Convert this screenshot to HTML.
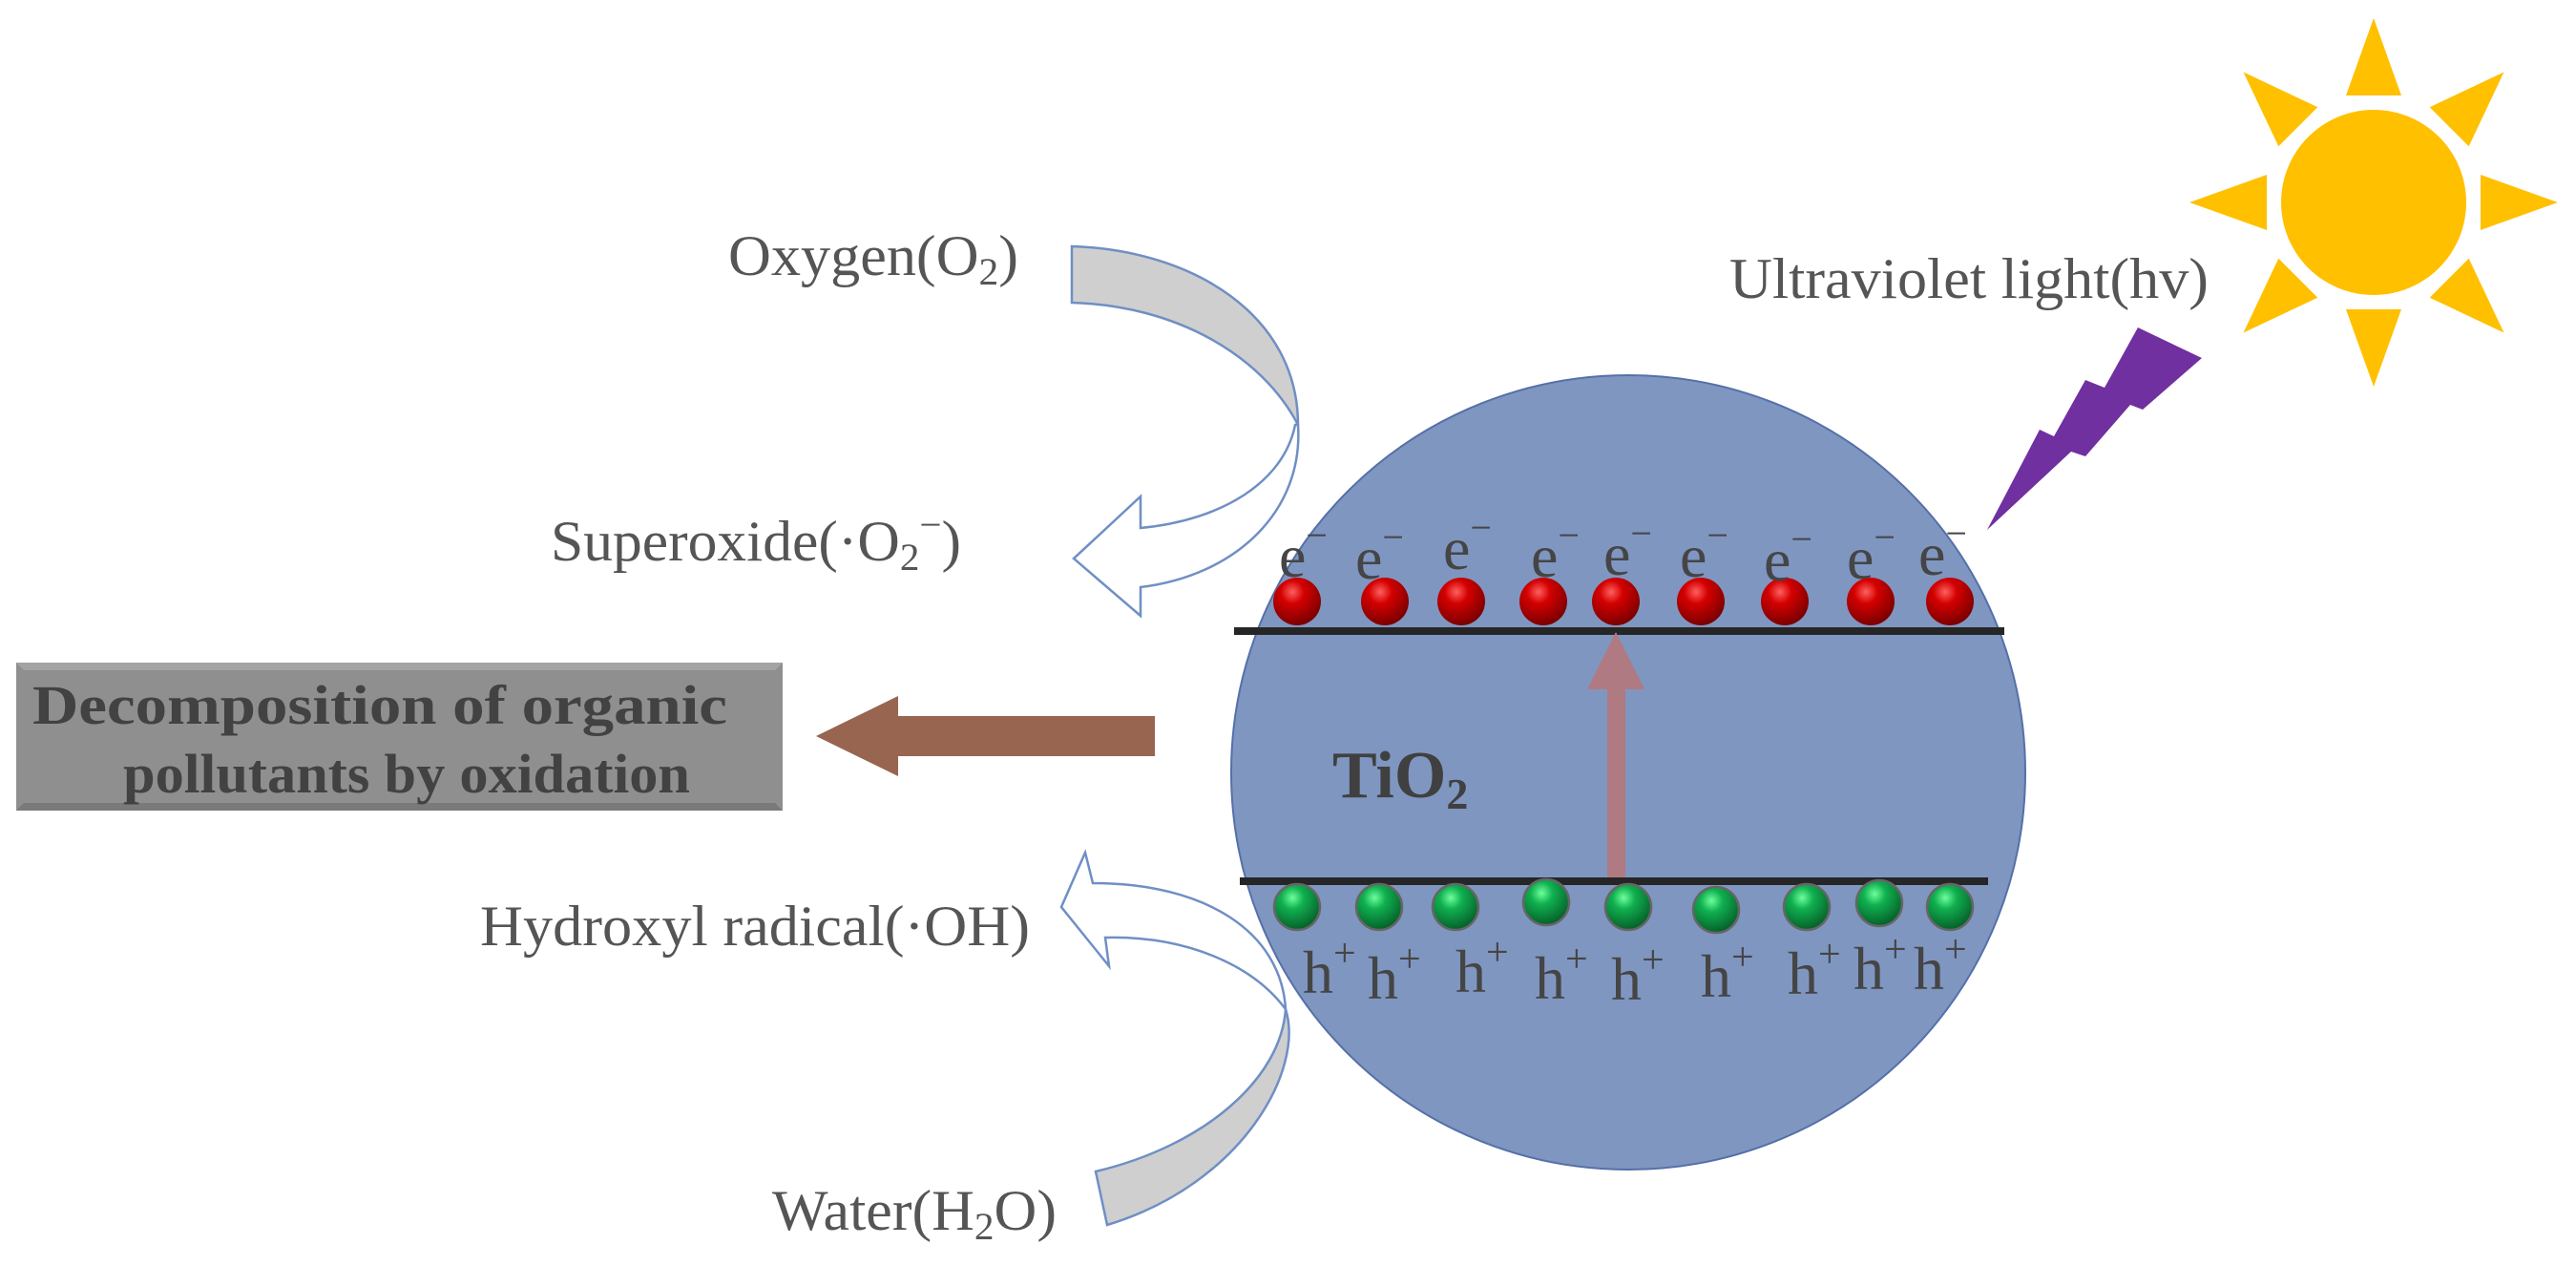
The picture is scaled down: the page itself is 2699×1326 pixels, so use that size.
<!DOCTYPE html>
<html><head><meta charset="utf-8"><style>
html,body{margin:0;padding:0;background:#fff;}
svg{display:block;}
text{font-family:"Liberation Serif",serif;}
</style></head><body>
<svg width="2699" height="1326" viewBox="0 0 2699 1326" xmlns="http://www.w3.org/2000/svg">
<defs>
<radialGradient id="red" cx="0.4" cy="0.3" r="0.7">
<stop offset="0" stop-color="#ff6060"/><stop offset="0.35" stop-color="#d40000"/><stop offset="1" stop-color="#7a0000"/>
</radialGradient>
<radialGradient id="grn" cx="0.4" cy="0.3" r="0.7">
<stop offset="0" stop-color="#6dff9a"/><stop offset="0.35" stop-color="#10b050"/><stop offset="1" stop-color="#06602a"/>
</radialGradient>
<g id="ray"><polygon points="0,-193 29,-112 -29,-112" fill="#ffc000"/></g>
</defs>

<!-- circle -->
<circle cx="1706" cy="809" r="416" fill="#7f96c1" stroke="#5570a8" stroke-width="2"/>

<!-- top curved arrow -->
<path d="M1123,258 C1250,262 1360,330 1360,445 C1322,372 1232,320 1123,317 Z" fill="#cfcfcf" stroke="#6f8fc5" stroke-width="2.5"/>
<path d="M1360,445 C1366,535 1295,603 1195,615 L1195,645 L1125,585 L1195,520 L1195,553 C1280,545 1345,505 1357,445 Z" fill="#fff" stroke="#6f8fc5" stroke-width="2.5"/>

<!-- bottom curved arrow -->
<path d="M1112,950 L1137,893 L1145,925 C1262,925 1342,975 1347,1057 C1312,1010 1242,980 1158,982 L1162,1012 Z" fill="#fff" stroke="#6f8fc5" stroke-width="2.5"/>
<path d="M1347,1057 C1367,1120 1302,1240 1160,1283 L1148,1227 C1262,1200 1342,1130 1347,1057 Z" fill="#cfcfcf" stroke="#6f8fc5" stroke-width="2.5"/>

<!-- band lines -->
<rect x="1293" y="657" width="807" height="8" fill="#262626"/>
<rect x="1299" y="919" width="784" height="8" fill="#262626"/>

<!-- vertical arrow -->
<rect x="1684" y="720" width="19" height="199" fill="#b07a82"/>
<polygon points="1693,662 1723,722 1663,722" fill="#b07a82"/>

<!-- red spheres -->
<g fill="url(#red)">
<circle cx="1359" cy="630" r="25"/><circle cx="1451" cy="630" r="25"/><circle cx="1531" cy="630" r="25"/>
<circle cx="1617" cy="630" r="25"/><circle cx="1693" cy="630" r="25"/><circle cx="1782" cy="630" r="25"/>
<circle cx="1870" cy="630" r="25"/><circle cx="1960" cy="630" r="25"/><circle cx="2043" cy="630" r="25"/>
</g>
<!-- green spheres -->
<g fill="url(#grn)" stroke="#666" stroke-width="2.5">
<circle cx="1359" cy="950" r="24"/><circle cx="1445" cy="950" r="24"/><circle cx="1525" cy="950" r="24"/>
<circle cx="1620" cy="945" r="24"/><circle cx="1706" cy="950" r="24"/><circle cx="1798" cy="953" r="24"/>
<circle cx="1893" cy="950" r="24"/><circle cx="1969" cy="946" r="24"/><circle cx="2043" cy="950" r="24"/>
</g>

<!-- e- labels -->
<g font-size="64" fill="#454545">
<text x="1340" y="604">e<tspan font-size="40" dy="-30">−</tspan></text>
<text x="1420" y="606">e<tspan font-size="40" dy="-30">−</tspan></text>
<text x="1512" y="596">e<tspan font-size="40" dy="-30">−</tspan></text>
<text x="1604" y="604">e<tspan font-size="40" dy="-30">−</tspan></text>
<text x="1680" y="602">e<tspan font-size="40" dy="-30">−</tspan></text>
<text x="1760" y="604">e<tspan font-size="40" dy="-30">−</tspan></text>
<text x="1848" y="608">e<tspan font-size="40" dy="-30">−</tspan></text>
<text x="1935" y="606">e<tspan font-size="40" dy="-30">−</tspan></text>
<text x="2010" y="602">e<tspan font-size="40" dy="-30">−</tspan></text>
</g>
<!-- h+ labels -->
<g font-size="64" fill="#454545">
<text x="1365" y="1040">h<tspan font-size="42" dy="-28">+</tspan></text>
<text x="1433" y="1046">h<tspan font-size="42" dy="-28">+</tspan></text>
<text x="1525" y="1039">h<tspan font-size="42" dy="-28">+</tspan></text>
<text x="1608" y="1046">h<tspan font-size="42" dy="-28">+</tspan></text>
<text x="1688" y="1047">h<tspan font-size="42" dy="-28">+</tspan></text>
<text x="1782" y="1044">h<tspan font-size="42" dy="-28">+</tspan></text>
<text x="1873" y="1041">h<tspan font-size="42" dy="-28">+</tspan></text>
<text x="1942" y="1036">h<tspan font-size="42" dy="-28">+</tspan></text>
<text x="2005" y="1036">h<tspan font-size="42" dy="-28">+</tspan></text>
</g>

<!-- TiO2 -->
<text x="1396" y="835" font-size="70" font-weight="bold" fill="#404040">TiO<tspan font-size="46" dy="12">2</tspan></text>

<!-- brown arrow -->
<polygon points="1210,750 941,750 941,729 855,771 941,813 941,792 1210,792" fill="#976550"/>

<!-- gray box -->
<rect x="17" y="694" width="803" height="155" fill="#8f8f8f"/>
<polygon points="17,694 820,694 812,702 25,702" fill="#a3a3a3"/>
<polygon points="17,849 820,849 812,841 25,841" fill="#7a7a7a"/>
<text x="398" y="758" font-size="58" font-weight="bold" fill="#424242" text-anchor="middle" textLength="728" lengthAdjust="spacingAndGlyphs">Decomposition of organic</text>
<text x="426" y="830" font-size="58" font-weight="bold" fill="#424242" text-anchor="middle" textLength="594" lengthAdjust="spacingAndGlyphs">pollutants by oxidation</text>

<!-- labels -->
<g font-size="60" fill="#555">
<text x="763" y="288" textLength="304" lengthAdjust="spacingAndGlyphs">Oxygen(O<tspan font-size="40" dy="10">2</tspan><tspan dy="-10">)</tspan></text>
<text x="577" y="587" textLength="430" lengthAdjust="spacingAndGlyphs">Superoxide(·O<tspan font-size="40" dy="10">2</tspan><tspan font-size="40" dy="-34">−</tspan><tspan dy="24">)</tspan></text>
<text x="503" y="990" textLength="576" lengthAdjust="spacingAndGlyphs">Hydroxyl radical(·OH)</text>
<text x="809" y="1288" textLength="298" lengthAdjust="spacingAndGlyphs">Water(H<tspan font-size="40" dy="10">2</tspan><tspan dy="-10">O)</tspan></text>
<text x="1812" y="312" textLength="502" lengthAdjust="spacingAndGlyphs">Ultraviolet light(hv)</text>
</g>

<!-- lightning -->
<polygon points="2082,555 2137,450 2152,457 2185,398 2205,406 2240,343 2307,375 2245,429 2232,424 2185,478 2170,473" fill="#7030a0"/>

<!-- sun -->
<g transform="translate(2487,212)">
<circle r="97" fill="#ffc000"/>
<use href="#ray"/>
<use href="#ray" transform="rotate(45)"/>
<use href="#ray" transform="rotate(90)"/>
<use href="#ray" transform="rotate(135)"/>
<use href="#ray" transform="rotate(180)"/>
<use href="#ray" transform="rotate(225)"/>
<use href="#ray" transform="rotate(270)"/>
<use href="#ray" transform="rotate(315)"/>
</g>
</svg>
</body></html>
